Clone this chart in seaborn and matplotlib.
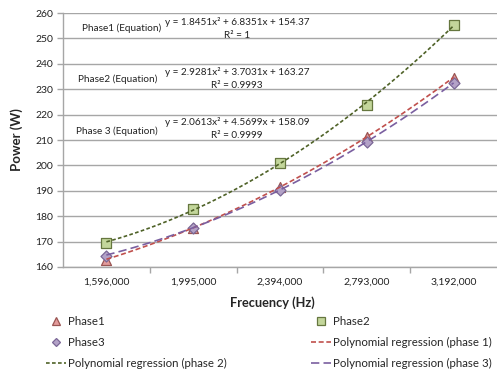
import numpy as np
import pandas as pd
import matplotlib
matplotlib.use("Agg")
import matplotlib.pyplot as plt
from matplotlib.lines import Line2D
import seaborn as sns

# Measured power per phase at each frequency step
frequencies = ["1,596,000", "1,995,000", "2,394,000", "2,793,000", "3,192,000"]
phase1 = [162.8, 175.3, 191.3, 211.3, 234.6]
phase2 = [169.5, 183.0, 201.0, 223.6, 255.3]
phase3 = [164.5, 175.5, 190.4, 209.4, 232.6]

# Second-order fit coefficients (a, b, c) for y = a*x^2 + b*x + c, x = 1..5
fit1 = [1.8451, 6.8351, 154.37]
fit2 = [2.9281, 3.7031, 163.27]
fit3 = [2.0613, 4.5699, 158.09]
r2_values = ["1", "0.9993", "0.9999"]

y_ticks = list(range(160, 261, 10))

sns.set_style("white")
plt.rcParams["font.family"] = ["Lato", "DejaVu Sans"]

fig = plt.figure(figsize=(4.97, 3.72), dpi=100)
ax = fig.add_axes([63 / 497, 1 - 267 / 372, (497 - 63) / 497, (267 - 13) / 372])

pos = np.arange(len(frequencies))
pts = pd.DataFrame({"pos": np.tile(pos, 3),
                    "power": phase1 + phase2 + phase3,
                    "series": ["Phase1"] * 5 + ["Phase2"] * 5 + ["Phase3"] * 5})

styles = {
    "Phase1": dict(marker="^", fc="#e39b9b", ec="#9a5553", ms=7.2),
    "Phase2": dict(marker="s", fc="#c3d69b", ec="#66773f", ms=7.2),
    "Phase3": dict(marker="D", fc="#b3a2c7", ec="#7b6897", ms=5.6),
}
for name, st in styles.items():
    sub = pts[pts.series == name]
    sns.scatterplot(data=sub, x="pos", y="power", ax=ax, marker=st["marker"],
                    color=st["fc"], edgecolor=st["ec"], linewidth=0.9,
                    s=st["ms"] ** 2, zorder=3, legend=False)

# Trend curves evaluated from the fit coefficients
xs = np.linspace(1, 5, 120)
dash1 = (0, (3, 1.6))
dash2 = (0, (2.2, 1.4))
dash3 = (0, (5, 2.5))
line_styles = [(fit1, "#c0504d", dash1), (fit2, "#4f6228", dash2), (fit3, "#7a5fa0", dash3)]
for coef, col, ls in line_styles:
    a, b, c = coef
    curve = pd.DataFrame({"pos": xs - 1, "power": a * xs ** 2 + b * xs + c})
    sns.lineplot(data=curve, x="pos", y="power", ax=ax, color=col,
                 linestyle=ls, linewidth=1.2, zorder=4)

ax.set_xlim(-0.5, len(frequencies) - 0.5)
ax.set_ylim(160, 260)
ax.set_yticks(y_ticks)
ax.set_xticks(pos)
ax.set_xticklabels(frequencies)
ax.set_xticks(np.arange(0.5, len(frequencies) - 0.5, 1), minor=True)
ax.grid(axis="y", color="#a6a6a6", linewidth=1.0)
ax.set_axisbelow(True)
ax.tick_params(axis="x", which="major", length=0, pad=8, labelsize=7.5, colors="#222222")
ax.tick_params(axis="x", which="minor", length=4, width=1, color="#a6a6a6", direction="out")
ax.tick_params(axis="y", length=4, width=1, color="#a6a6a6", direction="out",
               labelsize=7.5, labelcolor="#222222", pad=3)
ax.yaxis.set_ticks_position("left")
ax.xaxis.set_ticks_position("bottom")
for side in ("top", "right"):
    ax.spines[side].set_visible(False)
for side in ("left", "bottom"):
    ax.spines[side].set_color("#a6a6a6")
    ax.spines[side].set_linewidth(1.0)

ax.set_xlabel("Frecuency (Hz)", fontsize=9.2, fontweight="bold")
ax.set_ylabel("Power (W)", fontsize=9.5, fontweight="bold")
ax.xaxis.set_label_coords(0.483, -0.115)
ax.yaxis.set_label_coords(-0.092, 0.5)

# Equation annotations
labels = ["Phase1 (Equation)", "Phase2 (Equation)", "Phase 3 (Equation)"]
label_xy = [(122, 28), (118, 79), (117, 131)]
eq_y = [22, 72, 122]
for i, coef in enumerate([fit1, fit2, fit3]):
    a, b, c = coef
    eq = f"y = {a:.4f}x² + {b:.4f}x + {c:.2f}"
    lx, ly = label_xy[i]
    fig.text(lx / 497, 1 - ly / 372, labels[i], ha="center", va="center",
             fontsize=7.2, color="#222222")
    fig.text(237 / 497, 1 - eq_y[i] / 372, eq, ha="center", va="center",
             fontsize=7.2, color="#222222")
    fig.text(237 / 497, 1 - (eq_y[i] + 13.5) / 372, f"R² = {r2_values[i]}",
             ha="center", va="center", fontsize=7.2, color="#222222")

# Legend below the plot
def mk(name):
    st = styles[name]
    return Line2D([], [], linestyle="none", marker=st["marker"],
                  markerfacecolor=st["fc"], markeredgecolor=st["ec"],
                  markersize=st["ms"] * 0.8, markeredgewidth=0.9)

def ln(col, ls):
    return Line2D([], [], color=col, linestyle=ls, linewidth=1.2)

handles = [mk("Phase1"), mk("Phase3"), ln("#4f6228", dash2),
           mk("Phase2"), ln("#c0504d", dash1), ln("#7a5fa0", dash3)]
texts = ["Phase1", "Phase3", "Polynomial regression (phase 2)",
         "Phase2", "Polynomial regression (phase 1)", "Polynomial regression (phase 3)"]
fig.legend(handles, texts, ncol=2, loc="upper left", bbox_to_anchor=(46 / 497, 1 - 316 / 372),
           frameon=False, fontsize=8.3, handlelength=1.75, handletextpad=0.2,
           columnspacing=7.25, labelspacing=0.85, borderpad=0, borderaxespad=0)

fig.savefig("out.png", dpi=100)
